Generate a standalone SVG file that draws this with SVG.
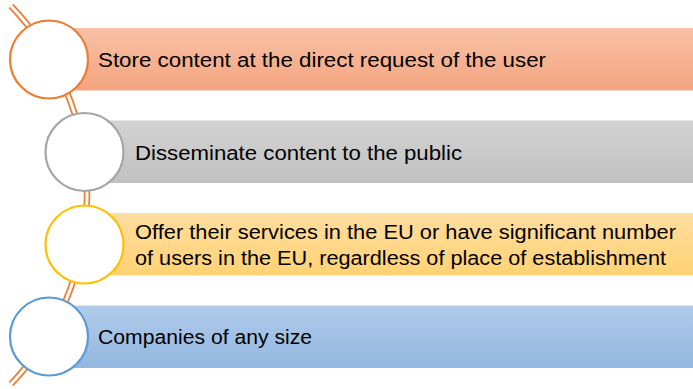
<svg xmlns="http://www.w3.org/2000/svg" width="693" height="389" viewBox="0 0 693 389">
<defs>
<linearGradient id="g1" x1="0" y1="0" x2="0" y2="1"><stop offset="0" stop-color="#F8C1A6"/><stop offset="1" stop-color="#F4A47F"/></linearGradient>
<linearGradient id="g2" x1="0" y1="0" x2="0" y2="1"><stop offset="0" stop-color="#D3D3D3"/><stop offset="1" stop-color="#C1C1C1"/></linearGradient>
<linearGradient id="g3" x1="0" y1="0" x2="0" y2="1"><stop offset="0" stop-color="#FFDDA0"/><stop offset="1" stop-color="#FFD273"/></linearGradient>
<linearGradient id="g4" x1="0" y1="0" x2="0" y2="1"><stop offset="0" stop-color="#B0CBEA"/><stop offset="1" stop-color="#93B7E0"/></linearGradient>
<style>
.t{font-family:"Liberation Sans",Arial,sans-serif;font-size:20px;fill:#000}
.c{fill:#fff;stroke-width:2.2}
</style>
</defs>
<g id="connectors">
<path d="M11,6 A272.9,272.9 0 0 1 11,384" fill="none" stroke="#ED7D31" stroke-width="6.5"/>
<path d="M11,6 A272.9,272.9 0 0 1 11,384" fill="none" stroke="#fff" stroke-width="3"/>
</g>
<g id="node1">
<rect x="70" y="28" width="623" height="62.5" fill="url(#g1)"/>
<circle class="c" cx="49" cy="59.5" r="39" stroke="#ED7D31"/>
<text class="t" x="98" y="67" textLength="448" lengthAdjust="spacingAndGlyphs">Store content at the direct request of the user</text>
</g>
<g id="node2">
<rect x="106" y="120.5" width="587" height="62.5" fill="url(#g2)"/>
<circle class="c" cx="84.5" cy="152" r="39" stroke="#A5A5A5"/>
<text class="t" x="135" y="160" textLength="327" lengthAdjust="spacingAndGlyphs">Disseminate content to the public</text>
</g>
<g id="node3">
<rect x="106" y="213" width="587" height="62.5" fill="url(#g3)"/>
<circle class="c" cx="84.5" cy="244.5" r="39" stroke="#FFC000"/>
<text class="t" x="135" y="239" textLength="541" lengthAdjust="spacingAndGlyphs">Offer their services in the EU or have significant number</text>
<text class="t" x="135" y="265" textLength="531" lengthAdjust="spacingAndGlyphs">of users in the EU, regardless of place of establishment</text>
</g>
<g id="node4">
<rect x="70" y="305.5" width="623" height="62.5" fill="url(#g4)"/>
<circle class="c" cx="49" cy="336.5" r="39" stroke="#5B9BD5"/>
<text class="t" x="98" y="344" textLength="214" lengthAdjust="spacingAndGlyphs">Companies of any size</text>
</g>
</svg>
